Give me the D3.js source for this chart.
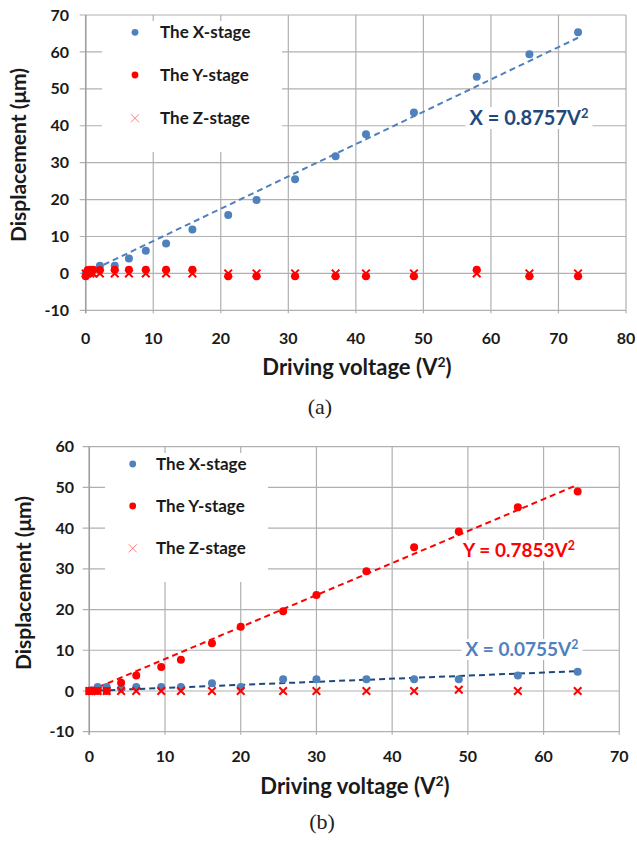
<!DOCTYPE html>
<html>
<head>
<meta charset="utf-8">
<script src="https://cdn.jsdelivr.net/npm/d3@7"></script>
<style>
  html, body { margin: 0; padding: 0; background: #fff; }
  svg { display: block; font-family: Lato, "Open Sans", sans-serif; }
</style>
</head>
<body>
<svg id="chart" width="637" height="841"></svg>
<script>
// ---------- Data (a) ----------
const aVoltage = [0, 0.3, 0.7, 1.1, 2.1, 4.3, 6.4, 8.9, 11.9, 15.8, 21.1, 25.3, 31.0, 37.0, 41.5, 48.6, 57.9, 65.7, 72.9];
const aXStage  = [0, 0.3, 0.6, 0.9, 2.1, 2.1, 4.0, 6.1, 8.1, 11.9, 15.8, 19.9, 25.5, 31.7, 37.7, 43.6, 53.3, 59.4, 65.3];
const aYStage  = [-0.8, 0.9, 1.0, 1.0, 0.9, 1.0, 1.0, 1.0, 1.0, 1.0, -0.8, -0.8, -0.8, -0.8, -0.8, -0.8, 1.0, -0.8, -0.8];
const aZStage  = [0, 0, 0, 0, 0, 0, 0, 0, 0, 0, 0, 0, 0, 0, 0, 0, 0, 0, 0];
const aXTicks  = [0, 10, 20, 30, 40, 50, 60, 70, 80];
const aYTicks  = [-10, 0, 10, 20, 30, 40, 50, 60, 70];
const aFitX    = 0.8757;

// ---------- Data (b) ----------
const bVoltage = [0, 0.3, 1.1, 2.3, 4.2, 6.2, 9.5, 12.1, 16.2, 20.0, 25.6, 30.0, 36.6, 42.9, 48.8, 56.6, 64.5];
const bXStage  = [0, 0.2, 1.0, 1.0, 0.6, 1.0, 1.0, 1.0, 1.9, 1.0, 2.9, 2.9, 2.9, 2.9, 2.9, 3.8, 4.7];
const bYStage  = [0, 0, 0, 0, 2.0, 3.8, 5.9, 7.7, 11.7, 15.8, 19.6, 23.6, 29.4, 35.3, 39.2, 45.1, 49.0];
const bZStage  = [0, 0, 0, 0, 0, 0, 0, 0, 0, 0, 0, 0, 0, 0, 0.3, 0, 0];
const bXTicks  = [0, 10, 20, 30, 40, 50, 60, 70];
const bYTicks  = [-10, 0, 10, 20, 30, 40, 50, 60];
const bFitY    = 0.7853;
const bFitX    = 0.0755;

const legendNames = ["The X-stage", "The Y-stage", "The Z-stage"];
const BLUE = "#4f81bd", RED = "#ff0000";

const svg = d3.select("#chart");

function drawChart(o) {
  const g = svg.append("g");
  const x = d3.scaleLinear().domain(o.xDomain).range(o.xRange);
  const y = d3.scaleLinear().domain(o.yDomain).range(o.yRange);
  const [x0, x1] = o.xRange, [y0, y1] = o.yRange; // y0 bottom, y1 top

  // gridlines
  g.append("g").selectAll("line").data(o.yTicks).join("line")
    .attr("x1", x0 - o.tickLen).attr("x2", x1)
    .attr("y1", d => y(d)).attr("y2", d => y(d))
    .attr("stroke", "#b0b0b0").attr("stroke-width", 1.2);
  g.append("g").selectAll("line").data(o.xTicks).join("line")
    .attr("x1", d => x(d)).attr("x2", d => x(d))
    .attr("y1", y1).attr("y2", y0 + 3)
    .attr("stroke", "#b0b0b0").attr("stroke-width", 1.2);
  // left axis
  g.append("line").attr("x1", x0).attr("x2", x0).attr("y1", y1).attr("y2", y0 + 3)
    .attr("stroke", "#a0a0a0").attr("stroke-width", 1.5);

  // tick labels
  g.append("g").selectAll("text").data(o.yTicks).join("text")
    .attr("x", o.yLabelX).attr("y", d => y(d)).attr("dy", "0.35em")
    .attr("text-anchor", "end").attr("font-size", 16).attr("font-weight", 700)
    .attr("fill", "#1a1a1a").text(d => d);
  g.append("g").selectAll("text").data(o.xTicks).join("text")
    .attr("x", d => x(d)).attr("y", o.xLabelY).attr("dy", "0.35em")
    .attr("text-anchor", "middle").attr("font-size", 16).attr("font-weight", 700)
    .attr("fill", "#1a1a1a").text(d => d);

  // axis titles
  const xt = g.append("text").attr("x", o.xTitle[0]).attr("y", o.xTitle[1])
    .attr("text-anchor", "middle").attr("font-size", 22).attr("font-weight", 700).attr("fill", "#1a1a1a");
  xt.append("tspan").text("Driving voltage (V");
  xt.append("tspan").attr("dy", -8).attr("font-size", 14).text("2");
  xt.append("tspan").attr("dy", 8).text(")");
  g.append("text").attr("transform", `translate(${o.yTitle[0]},${o.yTitle[1]}) rotate(-90)`)
    .attr("text-anchor", "middle").attr("font-size", 21).attr("font-weight", 700).attr("fill", "#1a1a1a")
    .text("Displacement (μm)");

  // legend box
  const lb = o.legend;
  g.append("rect").attr("x", lb.x).attr("y", lb.y).attr("width", lb.w).attr("height", lb.h).attr("fill", "#fff");
  legendNames.forEach((nm, i) => {
    const cy = lb.rowY[i];
    if (i < 2) {
      g.append("circle").attr("cx", lb.mx).attr("cy", cy).attr("r", 3.4).attr("fill", i === 0 ? BLUE : RED);
    } else {
      g.append("path").attr("d", `M${lb.mx - 4},${cy - 4}L${lb.mx + 4},${cy + 4}M${lb.mx - 4},${cy + 4}L${lb.mx + 4},${cy - 4}`)
        .attr("stroke", "#ff8080").attr("stroke-width", 1);
    }
    g.append("text").attr("x", lb.tx).attr("y", cy).attr("dy", "0.35em")
      .attr("font-size", 17).attr("font-weight", 700).attr("fill", "#1a1a1a").text(nm);
  });

  // fit lines
  o.fits.forEach(f => {
    const maxV = d3.max(o.voltage);
    g.append("line").attr("x1", x(0)).attr("y1", y(0)).attr("x2", x(maxV)).attr("y2", y(f.k * maxV))
      .attr("stroke", f.color).attr("stroke-width", 2).attr("stroke-dasharray", "6,4");
  });

  // fit labels
  o.fits.forEach(f => {
    const t = g.append("text").attr("x", f.pos[0]).attr("y", f.pos[1])
      .attr("text-anchor", "middle").attr("font-size", f.size).attr("font-weight", 700).attr("fill", f.textColor);
    t.append("tspan").text(f.label);
    t.append("tspan").attr("dy", -7).attr("font-size", f.size * 0.65).text("2");
    const bb = t.node().getBBox();
    g.insert("rect", () => t.node()).attr("x", bb.x - 4).attr("y", bb.y + 2).attr("width", bb.width + 8).attr("height", bb.height - 2).attr("fill", "#fff");
  });

  // points
  const pts = (vals) => o.voltage.map((v, i) => [v, vals[i]]);
  o.order.forEach(s => {
    if (s === "Z") {
      g.append("g").selectAll("path").data(pts(o.z)).join("path")
        .attr("d", d => { const cx = x(d[0]), cy = y(d[1]); return `M${cx - 3.8},${cy - 3.8}L${cx + 3.8},${cy + 3.8}M${cx - 3.8},${cy + 3.8}L${cx + 3.8},${cy - 3.8}`; })
        .attr("stroke", RED).attr("stroke-width", 2);
    } else {
      g.append("g").selectAll("circle").data(pts(s === "X" ? o.xs : o.ys)).join("circle")
        .attr("cx", d => x(d[0])).attr("cy", d => y(d[1])).attr("r", 4)
        .attr("fill", s === "X" ? BLUE : RED);
    }
  });

  // caption
  svg.append("text").attr("x", o.caption[0]).attr("y", o.caption[1]).attr("text-anchor", "middle")
    .attr("font-family", "'Liberation Serif', 'DejaVu Serif', serif").attr("font-size", 22).attr("fill", "#222")
    .text(o.caption[2]);
}

drawChart({
  xDomain: [0, 80], xRange: [85.7, 626], yDomain: [-10, 70], yRange: [310.3, 15],
  xTicks: aXTicks, yTicks: aYTicks, tickLen: 6, yLabelX: 69, xLabelY: 338,
  xTitle: [357, 375], yTitle: [26, 155],
  legend: { x: 102, y: 21, w: 180, h: 131, mx: 135, tx: 160, rowY: [32.3, 75, 118.3] },
  voltage: aVoltage, xs: aXStage, ys: aYStage, z: aZStage, order: ["X", "Z", "Y"],
  fits: [{ k: aFitX, color: BLUE, textColor: "#1f497d", label: "X = 0.8757V", pos: [529, 125], size: 20 }],
  caption: [320, 414, "(a)"]
});

drawChart({
  xDomain: [0, 70], xRange: [89.3, 619.3], yDomain: [-10, 60], yRange: [731.7, 446.7],
  xTicks: bXTicks, yTicks: bYTicks, tickLen: 6.6, yLabelX: 74, xLabelY: 756,
  xTitle: [355, 794], yTitle: [31, 583],
  legend: { x: 105, y: 453, w: 163, h: 129, mx: 132.7, tx: 156, rowY: [464, 506, 548.3] },
  voltage: bVoltage, xs: bXStage, ys: bYStage, z: bZStage, order: ["X", "Y", "Z"],
  fits: [
    { k: bFitY, color: RED, textColor: RED, label: "Y = 0.7853V", pos: [519, 557], size: 19 },
    { k: bFitX, color: "#1f497d", textColor: BLUE, label: "X = 0.0755V", pos: [522, 656], size: 19 }
  ],
  caption: [322, 829, "(b)"]
});
</script>
</body>
</html>
